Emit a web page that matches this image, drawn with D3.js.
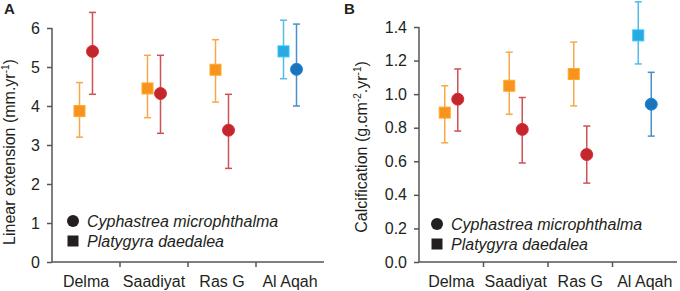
<!DOCTYPE html>
<html>
<head>
<meta charset="utf-8">
<script src="https://d3js.org/d3.v7.min.js"></script>
<style>
  body { margin: 0; background: #fff; }
  svg { font-family: "Liberation Sans", Arial, sans-serif; }
</style>
</head>
<body>
<svg id="chart" width="680" height="291"></svg>
<script>
// sites on the x axis
const sites = ["Delma", "Saadiyat", "Ras G", "Al Aqah"];

// Panel A: linear extension (mm/yr)
const extPlaty = [3.87, 4.45, 4.93, 5.40];
const extPlatyLo = [3.2, 3.7, 4.1, 4.7];
const extPlatyHi = [4.6, 5.3, 5.7, 6.2];
const extCyph = [5.40, 4.32, 3.38, 4.94];
const extCyphLo = [4.3, 3.3, 2.4, 4.0];
const extCyphHi = [6.4, 5.3, 4.3, 6.1];
const extTicks = [0, 1, 2, 3, 4, 5, 6];

// Panel B: calcification (g/cm2/yr)
const calPlaty = [0.89, 1.05, 1.12, 1.35];
const calPlatyLo = [0.71, 0.88, 0.93, 1.18];
const calPlatyHi = [1.05, 1.25, 1.31, 1.55];
const calCyph = [0.97, 0.79, 0.64, 0.94];
const calCyphLo = [0.78, 0.59, 0.47, 0.75];
const calCyphHi = [1.15, 0.98, 0.81, 1.13];
const calTicks = [0, 0.2, 0.4, 0.6, 0.8, 1.0, 1.2, 1.4];

// colours: Al Aqah is blue, the rest orange / red
const sqColor = ["#f7931e", "#f7931e", "#f7931e", "#29abe2"];
const ciColor = ["#c1272d", "#c1272d", "#c1272d", "#1b75bc"];

const svg = d3.select("#chart");
const ink = "#231f20";

function drawPanel(cfg) {
  const g = svg.append("g");

  const y = d3.scaleLinear().domain(cfg.yDomain).range([262, cfg.yTop]);
  const x = d3.scaleBand().domain(sites).range([cfg.left, cfg.right]);

  // y axis
  const yAxis = d3.axisLeft(y).tickValues(cfg.ticks).tickFormat(cfg.fmt)
      .tickSize(5).tickPadding(7);
  const yG = g.append("g").attr("transform", `translate(${cfg.left},0)`).call(yAxis);
  yG.select(".domain").attr("d", `M0,${y(cfg.ticks[cfg.ticks.length - 1])}V262`);

  // x axis: ticks on the category boundaries
  const xG = g.append("g").attr("transform", "translate(0,262)");
  xG.append("line").attr("x1", cfg.left).attr("x2", cfg.right).attr("y1", 0).attr("y2", 0);
  xG.selectAll(".bt").data(sites.slice(1)).join("line")
      .attr("x1", d => x(d)).attr("x2", d => x(d)).attr("y1", 0).attr("y2", 5);
  xG.selectAll("line").attr("stroke", "#555").attr("stroke-width", 1.5);
  xG.selectAll("text").data(sites).join("text")
      .attr("x", d => x(d) + x.bandwidth() / 2).attr("y", 25)
      .attr("text-anchor", "middle").attr("font-size", 16).attr("fill", ink)
      .text(d => d);

  yG.selectAll(".domain, .tick line").attr("stroke", "#555").attr("stroke-width", 1.5);
  yG.selectAll(".tick text").attr("font-size", 16).attr("fill", ink)
      .attr("font-family", "Liberation Sans, Arial, sans-serif");

  // y label
  const lab = g.append("text")
      .attr("transform", `translate(${cfg.labX},${cfg.labY}) rotate(-90)`)
      .attr("text-anchor", "middle").attr("font-size", 16).attr("fill", ink);
  lab.append("tspan").text(cfg.label[0]);
  cfg.label.slice(1).forEach((p, i) => {
    lab.append("tspan").text(p)
        .attr("font-size", i % 2 === 0 ? 10 : 16)
        .attr("dy", i % 2 === 0 ? -6 : 6);
  });

  // panel letter
  g.append("text").attr("x", cfg.letterX).attr("y", 14)
      .attr("font-weight", "bold").attr("font-size", 15).attr("fill", ink)
      .text(cfg.letter);

  const off = cfg.off;
  const series = [
    { val: cfg.platy, lo: cfg.platyLo, hi: cfg.platyHi, dx: -off, col: sqColor, shape: "sq" },
    { val: cfg.cyph, lo: cfg.cyphLo, hi: cfg.cyphHi, dx: off, col: ciColor, shape: "ci" }
  ];

  series.forEach(s => {
    const pts = sites.map((site, i) => ({
      cx: x(site) + x.bandwidth() / 2 + s.dx,
      v: s.val[i], lo: s.lo[i], hi: s.hi[i], c: s.col[i]
    }));
    const eb = g.append("g").attr("opacity", 0.8);
    eb.selectAll(".v").data(pts).join("line")
        .attr("x1", d => d.cx).attr("x2", d => d.cx)
        .attr("y1", d => y(d.lo)).attr("y2", d => y(d.hi))
        .attr("stroke", d => d.c).attr("stroke-width", 1.5);
    [d => d.lo, d => d.hi].forEach(f => {
      eb.append("g").selectAll("line").data(pts).join("line")
          .attr("x1", d => d.cx - 3.5).attr("x2", d => d.cx + 3.5)
          .attr("y1", d => y(f(d))).attr("y2", d => y(f(d)))
          .attr("stroke", d => d.c).attr("stroke-width", 1.5);
    });
    if (s.shape === "sq") {
      g.append("g").selectAll("rect").data(pts).join("rect")
          .attr("x", d => d.cx - 5.5).attr("y", d => y(d.v) - 5.5)
          .attr("width", 11).attr("height", 11)
          .attr("fill", d => d.c).attr("stroke", d => d3.color(d.c).brighter(0.4)).attr("stroke-width", 1);
    } else {
      g.append("g").selectAll("circle").data(pts).join("circle")
          .attr("cx", d => d.cx).attr("cy", d => y(d.v)).attr("r", 6)
          .attr("fill", d => d.c).attr("stroke", d => d3.color(d.c).brighter(0.4)).attr("stroke-width", 1);
    }
  });

  // legend
  const lg = g.append("g").attr("transform", `translate(${cfg.legX},${cfg.legY})`);
  lg.append("circle").attr("cx", 0).attr("cy", 0).attr("r", 6).attr("fill", ink);
  lg.append("rect").attr("x", -5.5).attr("y", 14.5).attr("width", 11).attr("height", 11).attr("fill", ink);
  lg.append("text").attr("x", 14).attr("y", 6).attr("font-size", 16).attr("font-style", "italic")
      .attr("fill", ink).text("Cyphastrea microphthalma");
  lg.append("text").attr("x", 14).attr("y", 26).attr("font-size", 16).attr("font-style", "italic")
      .attr("fill", ink).text("Platygyra daedalea");
}

drawPanel({
  letter: "A", letterX: 4,
  left: 52, right: 324, yTop: 28, yDomain: [0, 6], ticks: extTicks, fmt: d3.format("d"),
  label: ["Linear extension (mm.yr", "-1", ")"], labX: 15, labY: 152,
  platy: extPlaty, platyLo: extPlatyLo, platyHi: extPlatyHi,
  cyph: extCyph, cyphLo: extCyphLo, cyphHi: extCyphHi,
  off: 6.5, legX: 73, legY: 221
});

drawPanel({
  letter: "B", letterX: 344,
  left: 419, right: 677, yTop: 27, yDomain: [0, 1.4], ticks: calTicks, fmt: d3.format(".1f"),
  label: ["Calcification (g.cm", "-2", ".yr", "-1", ")"], labX: 367, labY: 147,
  platy: calPlaty, platyLo: calPlatyLo, platyHi: calPlatyHi,
  cyph: calCyph, cyphLo: calCyphLo, cyphHi: calCyphHi,
  off: 6.5, legX: 437, legY: 224
});
</script>
</body>
</html>
